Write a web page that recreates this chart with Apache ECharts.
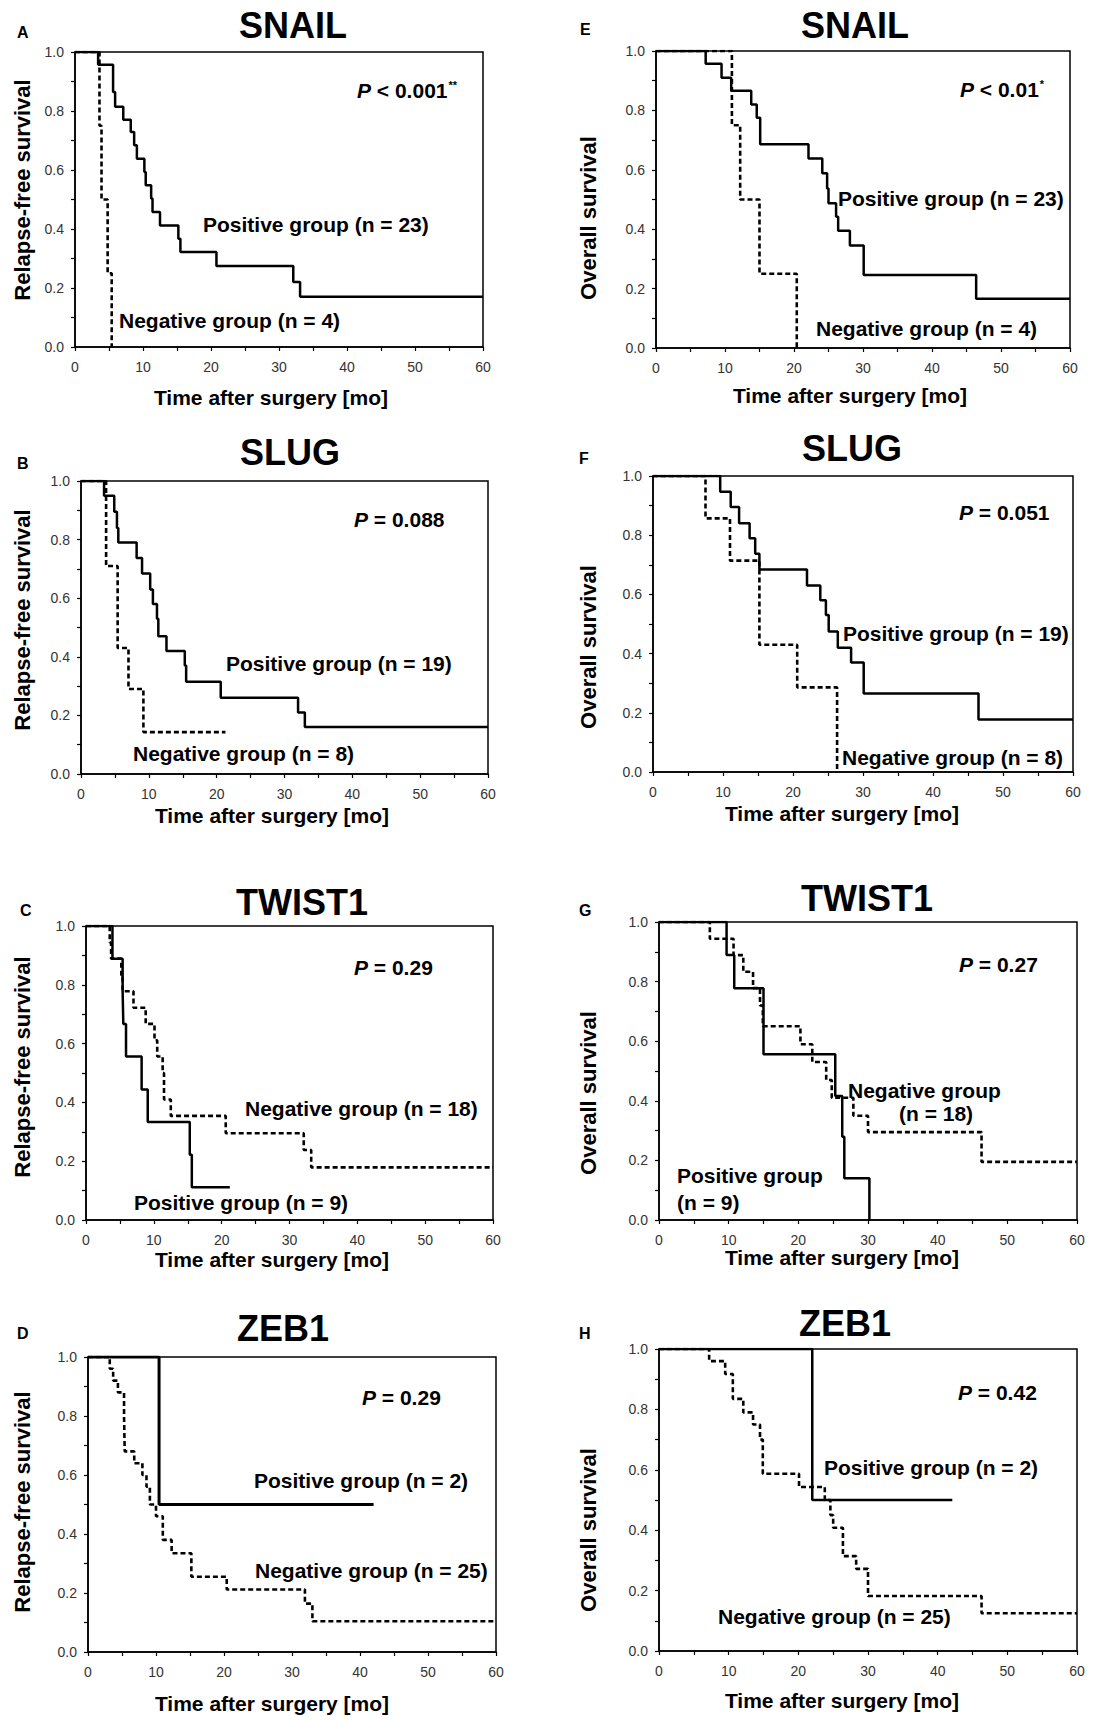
<!DOCTYPE html>
<html>
<head>
<meta charset="utf-8">
<script src="https://cdn.jsdelivr.net/npm/echarts@6/dist/echarts.min.js"></script>
<style>
html,body{margin:0;padding:0;background:#fff;}
#chart{width:1116px;height:1720px;}
</style>
</head>
<body>
<div id="chart"></div>
<script>
// ---- Data (time in months, survival fraction) ----
const xTicks = [0, 10, 20, 30, 40, 50, 60];
const yTicks = [0.0, 0.2, 0.4, 0.6, 0.8, 1.0];

// A: SNAIL relapse-free survival
const A_pos_t = [0, 3.4, 5.6, 5.9, 7.1, 8.2, 8.7, 9.1, 10.2, 10.4, 11.2, 11.4, 12.5, 15.2, 15.5, 20.8, 32.1, 33.1, 60];
const A_pos_s = [1, 0.957, 0.864, 0.814, 0.77, 0.729, 0.684, 0.638, 0.593, 0.548, 0.503, 0.458, 0.412, 0.367, 0.322, 0.275, 0.22, 0.17, 0.17];
const A_neg_t = [0, 3.6, 3.9, 4.8, 5.4];
const A_neg_s = [1, 0.75, 0.5, 0.25, 0];

// E: SNAIL overall survival
const E_pos_t = [0, 7.2, 9.5, 10.9, 13.8, 14.6, 15.1, 22.1, 24.1, 24.8, 25.0, 26.1, 26.4, 28.1, 30.1, 46.4, 60];
const E_pos_s = [1, 0.957, 0.91, 0.866, 0.82, 0.775, 0.686, 0.638, 0.588, 0.537, 0.487, 0.442, 0.395, 0.345, 0.246, 0.166, 0.166];
const E_neg_t = [0, 11.0, 12.2, 15.0, 20.4];
const E_neg_s = [1, 0.75, 0.5, 0.25, 0];

// B: SLUG relapse-free survival
const B_pos_t = [0, 3.4, 4.9, 5.3, 5.5, 8.2, 9.0, 10.2, 10.6, 11.2, 11.4, 12.6, 15.3, 15.5, 20.6, 32.0, 33.0, 60];
const B_pos_s = [1, 0.95, 0.895, 0.84, 0.79, 0.737, 0.684, 0.63, 0.58, 0.53, 0.47, 0.42, 0.37, 0.315, 0.26, 0.21, 0.16, 0.16];
const B_neg_t = [0, 3.7, 5.4, 7.0, 9.2, 21.3];
const B_neg_s = [1, 0.71, 0.43, 0.29, 0.143, 0.143];

// F: SLUG overall survival
const F_pos_t = [0, 9.6, 11.1, 12.3, 13.8, 14.6, 15.2, 22.0, 23.9, 24.7, 25.1, 26.4, 28.3, 30.1, 46.5, 60];
const F_pos_s = [1, 0.947, 0.895, 0.84, 0.79, 0.737, 0.684, 0.63, 0.58, 0.53, 0.475, 0.42, 0.37, 0.265, 0.177, 0.177];
const F_neg_t = [0, 7.5, 11.0, 15.2, 20.6, 26.3];
const F_neg_s = [1, 0.857, 0.714, 0.43, 0.286, 0];

// C: TWIST1 relapse-free survival
const C_pos_t = [0, 3.9, 5.4, 5.5, 5.9, 8.2, 9.1, 15.3, 15.6, 21.2];
const C_pos_s = [1, 0.889, 0.778, 0.667, 0.556, 0.444, 0.333, 0.222, 0.111, 0.111];
const C_neg_t = [0, 3.5, 3.7, 5.2, 5.4, 7.0, 8.8, 10.1, 10.5, 11.3, 11.5, 12.5, 20.6, 32.1, 33.2, 60];
const C_neg_s = [1, 0.944, 0.889, 0.833, 0.778, 0.722, 0.667, 0.611, 0.556, 0.5, 0.41, 0.354, 0.295, 0.238, 0.179, 0.179];

// G: TWIST1 overall survival
const G_pos_t = [0, 9.7, 10.8, 15.0, 25.3, 26.3, 26.6, 30.2];
const G_pos_s = [1, 0.889, 0.778, 0.556, 0.416, 0.279, 0.14, 0];
const G_neg_t = [0, 7.3, 10.7, 12.1, 13.5, 14.5, 14.9, 20.3, 22.0, 24.0, 24.8, 27.9, 30.0, 46.3, 60];
const G_neg_s = [1, 0.944, 0.889, 0.833, 0.778, 0.72, 0.65, 0.59, 0.53, 0.47, 0.41, 0.35, 0.295, 0.195, 0.195];

// D: ZEB1 relapse-free survival
const D_pos_t = [0, 10.45, 42.0];
const D_pos_s = [1, 0.5, 0.5];
const D_neg_t = [0, 3.2, 3.7, 4.4, 5.3, 5.4, 6.8, 8.0, 8.6, 9.1, 10.0, 11.0, 12.3, 15.2, 20.4, 31.9, 33.0, 60];
const D_neg_s = [1, 0.96, 0.92, 0.88, 0.80, 0.68, 0.64, 0.60, 0.56, 0.50, 0.46, 0.38, 0.335, 0.255, 0.212, 0.164, 0.104, 0.104];

// H: ZEB1 overall survival
const H_pos_t = [0, 22.0, 42.1];
const H_pos_s = [1, 0.5, 0.5];
const H_neg_t = [0, 7.2, 9.5, 10.6, 12.1, 13.5, 14.5, 14.9, 20.1, 23.8, 24.6, 25.0, 26.4, 28.3, 30.0, 46.3, 60];
const H_neg_s = [1, 0.96, 0.917, 0.835, 0.79, 0.75, 0.70, 0.587, 0.543, 0.50, 0.45, 0.408, 0.314, 0.272, 0.182, 0.125, 0.125];

// ---- Text ----
const genes = ['SNAIL', 'SLUG', 'TWIST1', 'ZEB1'];
const yTitleRFS = 'Relapse-free survival';
const yTitleOS = 'Overall survival';
const xTitle = 'Time after surgery [mo]';

// ---- Layout ----
const FONT = '"Liberation Sans", Arial, sans-serif';
const panels = [
  {key:'A', grid:{left:75, top:52, width:408, height:295}, pos:[A_pos_t, A_pos_s], neg:[A_neg_t, A_neg_s]},
  {key:'E', grid:{left:656, top:51, width:414, height:297}, pos:[E_pos_t, E_pos_s], neg:[E_neg_t, E_neg_s]},
  {key:'B', grid:{left:81, top:481, width:407, height:293}, pos:[B_pos_t, B_pos_s], neg:[B_neg_t, B_neg_s]},
  {key:'F', grid:{left:653, top:476, width:420, height:296}, pos:[F_pos_t, F_pos_s], neg:[F_neg_t, F_neg_s]},
  {key:'C', grid:{left:86, top:926, width:407, height:294}, pos:[C_pos_t, C_pos_s], neg:[C_neg_t, C_neg_s]},
  {key:'G', grid:{left:659, top:922, width:418, height:298}, pos:[G_pos_t, G_pos_s], neg:[G_neg_t, G_neg_s]},
  {key:'D', grid:{left:88, top:1357, width:408, height:295}, pos:[D_pos_t, D_pos_s], neg:[D_neg_t, D_neg_s]},
  {key:'H', grid:{left:659, top:1349, width:418, height:302}, pos:[H_pos_t, H_pos_s], neg:[H_neg_t, H_neg_s]}
];

function pts(t, s) { return t.map((x, i) => [x, s[i]]); }

const grids = [], xAxes = [], yAxes = [], series = [];
panels.forEach((p, i) => {
  grids.push(Object.assign({show:true, borderColor:'#000', borderWidth:1.5, backgroundColor:'transparent'}, p.grid));
  xAxes.push({
    type:'value', gridIndex:i, min:xTicks[0], max:xTicks[xTicks.length-1], interval:xTicks[1]-xTicks[0],
    axisLine:{show:true, lineStyle:{color:'#000', width:1.5}},
    axisTick:{show:true, length:4, lineStyle:{color:'#000', width:1.2}},
    minorTick:{show:true, splitNumber:2, length:4, lineStyle:{color:'#000', width:1.2}},
    splitLine:{show:false}, minorSplitLine:{show:false},
    axisLabel:{fontSize:14, color:'#333', fontFamily:FONT, margin:13}
  });
  yAxes.push({
    type:'value', gridIndex:i, min:yTicks[0], max:yTicks[yTicks.length-1], interval:yTicks[1]-yTicks[0],
    axisLine:{show:true, lineStyle:{color:'#000', width:1.5}},
    axisTick:{show:true, length:4, lineStyle:{color:'#000', width:1.2}},
    minorTick:{show:true, splitNumber:2, length:4, lineStyle:{color:'#000', width:1.2}},
    splitLine:{show:false}, minorSplitLine:{show:false},
    axisLabel:{fontSize:14, color:'#333', fontFamily:FONT, margin:11, formatter:v => v.toFixed(1)}
  });
  series.push({
    type:'line', xAxisIndex:i, yAxisIndex:i, step:'end', symbol:'none', silent:true,
    data:pts(p.neg[0], p.neg[1]), z:2,
    lineStyle:{color:'#000', width:2.6, type:[5,3]}
  });
  series.push({
    type:'line', xAxisIndex:i, yAxisIndex:i, step:'end', symbol:'none', silent:true,
    data:pts(p.pos[0], p.pos[1]), z:3,
    lineStyle:{color:'#000', width:(p.key==='D'?3:2.5), type:'solid'}
  });
});

function txt(x, y, text, size, opt) {
  opt = opt || {};
  return {
    type:'text', x:x, y:y, rotation:opt.rotation || 0, z:10, silent:true,
    style:{
      text:text, fontSize:size, fontWeight:opt.weight || 'bold', fontFamily:FONT,
      fill:'#000', align:opt.align || 'left', verticalAlign:'middle', rich:opt.rich
    }
  };
}
function pval(x, y, body, sup) {
  return txt(x, y, '{i|P}' + body + (sup ? '{s|' + sup + '}' : ''), 21, {rich:{
    i:{fontStyle:'italic', fontWeight:'bold', fontSize:21, fontFamily:FONT, fill:'#000'},
    s:{fontWeight:'bold', fontSize:11, fontFamily:FONT, fill:'#000', verticalAlign:'top', padding:[0,0,10,1]}
  }});
}

const graphics = [
  // panel letters
  txt(17, 32, 'A', 16), txt(580, 29, 'E', 16),
  txt(17, 463, 'B', 16), txt(579, 458, 'F', 16),
  txt(20, 910, 'C', 16), txt(579, 910, 'G', 16),
  txt(17, 1333, 'D', 16), txt(579, 1333, 'H', 16),
  // titles
  txt(293, 25, genes[0], 36, {align:'center'}), txt(855, 25, genes[0], 36, {align:'center'}),
  txt(290, 452, genes[1], 36, {align:'center'}), txt(852, 448, genes[1], 36, {align:'center'}),
  txt(302, 902, genes[2], 36, {align:'center'}), txt(867, 898, genes[2], 36, {align:'center'}),
  txt(283, 1328, genes[3], 36, {align:'center'}), txt(845, 1323, genes[3], 36, {align:'center'}),
  // x axis titles
  txt(271, 397, xTitle, 21, {align:'center'}), txt(850, 395, xTitle, 21, {align:'center'}),
  txt(272, 815, xTitle, 21, {align:'center'}), txt(842, 813, xTitle, 21, {align:'center'}),
  txt(272, 1259, xTitle, 21, {align:'center'}), txt(842, 1257, xTitle, 21, {align:'center'}),
  txt(272, 1703, xTitle, 21, {align:'center'}), txt(842, 1700, xTitle, 21, {align:'center'}),
  // y axis titles
  txt(22, 190, yTitleRFS, 22, {align:'center', rotation:Math.PI/2}),
  txt(588, 218, yTitleOS, 22, {align:'center', rotation:Math.PI/2}),
  txt(22, 620, yTitleRFS, 22, {align:'center', rotation:Math.PI/2}),
  txt(588, 647, yTitleOS, 22, {align:'center', rotation:Math.PI/2}),
  txt(22, 1067, yTitleRFS, 22, {align:'center', rotation:Math.PI/2}),
  txt(588, 1093, yTitleOS, 22, {align:'center', rotation:Math.PI/2}),
  txt(22, 1502, yTitleRFS, 22, {align:'center', rotation:Math.PI/2}),
  txt(588, 1530, yTitleOS, 22, {align:'center', rotation:Math.PI/2}),
  // P values
  pval(357, 90, ' < 0.001', '**'),
  pval(960, 89, ' < 0.01', '*'),
  pval(354, 519, ' = 0.088'),
  pval(959, 512, ' = 0.051'),
  pval(354, 967, ' = 0.29'),
  pval(959, 964, ' = 0.27'),
  pval(362, 1397, ' = 0.29'),
  pval(958, 1392, ' = 0.42'),
  // group labels
  txt(203, 224, 'Positive group (n = 23)', 21),
  txt(119, 320, 'Negative group (n = 4)', 21),
  txt(838, 198, 'Positive group (n = 23)', 21),
  txt(816, 328, 'Negative group (n = 4)', 21),
  txt(226, 663, 'Positive group (n = 19)', 21),
  txt(133, 753, 'Negative group (n = 8)', 21),
  txt(843, 633, 'Positive group (n = 19)', 21),
  txt(842, 757, 'Negative group (n = 8)', 21),
  txt(245, 1108, 'Negative group (n = 18)', 21),
  txt(134, 1202, 'Positive group (n = 9)', 21),
  txt(848, 1090, 'Negative group', 21),
  txt(899, 1113, '(n = 18)', 21),
  txt(677, 1175, 'Positive group', 21),
  txt(677, 1202, '(n = 9)', 21),
  txt(254, 1480, 'Positive group (n = 2)', 21),
  txt(255, 1570, 'Negative group (n = 25)', 21),
  txt(824, 1467, 'Positive group (n = 2)', 21),
  txt(718, 1616, 'Negative group (n = 25)', 21)
];

const chart = echarts.init(document.getElementById('chart'), null, {renderer:'svg', width:1116, height:1720});
chart.setOption({
  animation:false,
  backgroundColor:'#fff',
  grid:grids, xAxis:xAxes, yAxis:yAxes, series:series,
  graphic:graphics
});
</script>
</body>
</html>
